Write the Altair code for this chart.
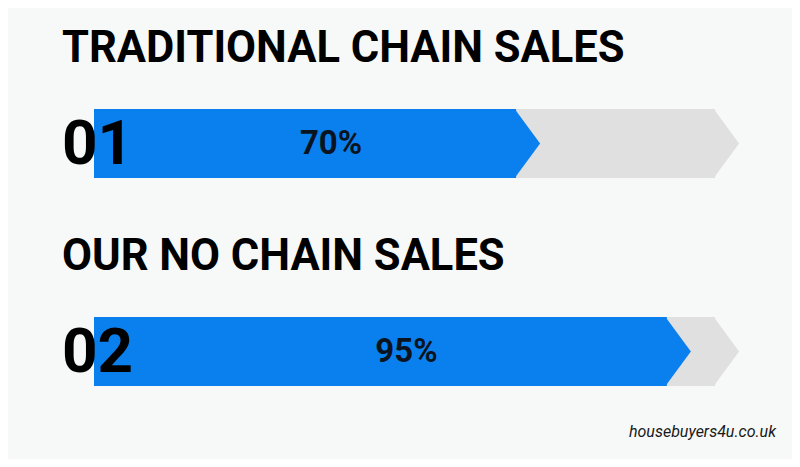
import altair as alt
import pandas as pd

rows = ["01", "02"]
titles = ["TRADITIONAL CHAIN SALES", "OUR NO CHAIN SALES"]
values = [70, 95]
labels = ["70%", "95%"]
track_end = [103, 103]

df = pd.DataFrame({"row": rows, "title": titles, "value": values,
                   "label": labels, "track": track_end})

BLUE = "#0A80EE"
GRAY = "#E0E0E0"
BAR_H = 69
TIP = "M-0.04,-1L0.696,0L-0.04,1Z"

x_scale = alt.Scale(domain=[0, 100], range=[86, 689], zero=False, nice=False)
y_scale = alt.Scale(type="point", domain=rows, range=[135.5, 343.5], padding=0)

X = lambda f: alt.X(f, type="quantitative", scale=x_scale, axis=None)
Y = alt.Y("row:N", scale=y_scale, axis=None)

base = alt.Chart(df)

gray_bar = base.mark_bar(size=BAR_H, color=GRAY, cornerRadius=0).encode(
    x=alt.X("zero:Q", scale=x_scale, axis=None), x2="track:Q", y=Y
).transform_calculate(zero="0")
gray_tip = base.mark_point(shape=TIP, size=BAR_H * BAR_H, filled=True,
                           color=GRAY, opacity=1, strokeWidth=0).encode(
    x=X("track"), y=Y)

blue_bar = base.mark_bar(size=BAR_H, color=BLUE, cornerRadius=0).encode(
    x=alt.X("zero:Q", scale=x_scale, axis=None), x2="value:Q", y=Y
).transform_calculate(zero="0")
blue_tip = base.mark_point(shape=TIP, size=BAR_H * BAR_H, filled=True,
                           color=BLUE, opacity=1, strokeWidth=0).encode(
    x=X("value"), y=Y)

num_text = base.mark_text(font="Roboto", fontWeight="bold", fontSize=62,
                          align="left", baseline="middle", dx=-32, dy=1,
                          color="#000000").encode(
    x=alt.X("zero:Q", scale=x_scale, axis=None), y=Y, text="row:N"
).transform_calculate(zero="0")

pct_text = base.mark_text(font="Roboto", fontWeight="bold", fontSize=33,
                          align="center", baseline="middle", dx=26, dy=0,
                          color="#0A1420").encode(
    x=alt.X("mid:Q", scale=x_scale, axis=None), y=Y, text="label:N"
).transform_calculate(mid="datum.value / 2")

title_text = base.mark_text(font="Roboto", fontWeight="bold", fontSize=43.5,
                            align="left", baseline="middle", dx=-32, dy=-95,
                            color="#000000").encode(
    x=alt.X("zero:Q", scale=x_scale, axis=None), y=Y, text="title:N"
).transform_calculate(zero="0")

wm = alt.Chart(pd.DataFrame({"t": ["housebuyers4u.co.uk"]})).mark_text(
    font="Roboto", fontStyle="italic", fontSize=16, align="right",
    baseline="alphabetic", color="#1a1a1a"
).encode(x=alt.value(768), y=alt.value(429), text="t:N")

chart = alt.layer(gray_bar, gray_tip, blue_bar, blue_tip, num_text, pct_text,
                  title_text, wm).properties(
    width=784, height=451, background="#F7F9F9",
    autosize=alt.AutoSizeParams(type="none"), padding=0
).configure_view(stroke=None)

chart.save("out.html", embed_options={"renderer": "svg", "actions": False})
